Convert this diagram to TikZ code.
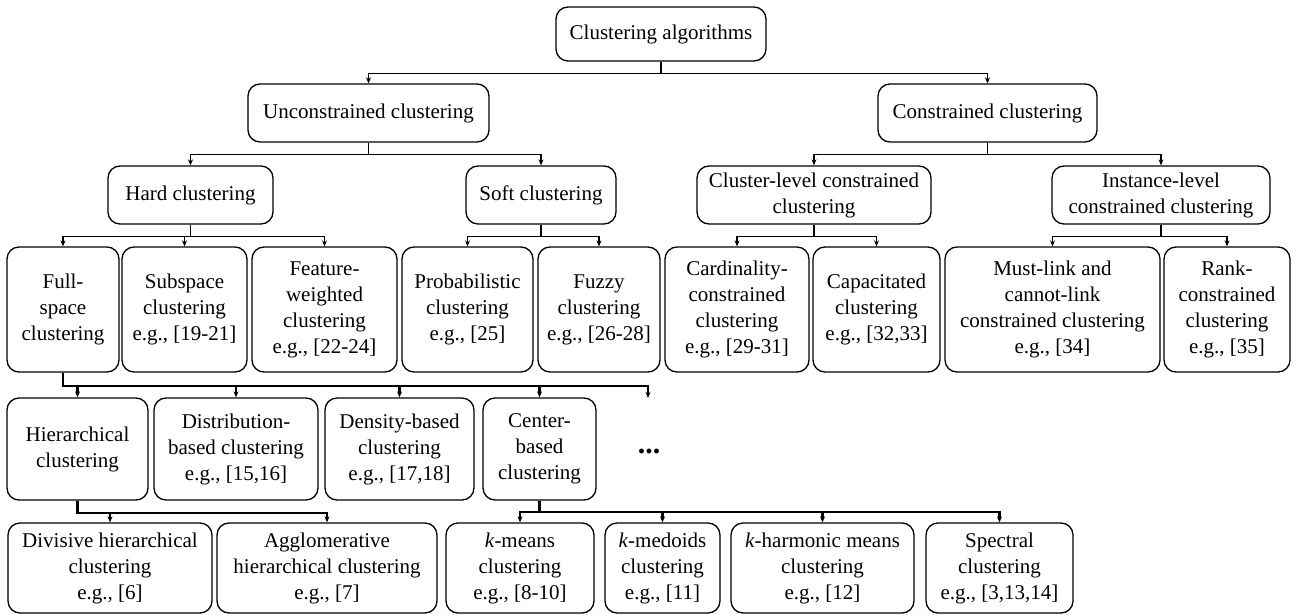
\documentclass[tikz,border=0pt]{standalone}
\usepackage{fontspec}
\setmainfont{Liberation Serif}
\newfontfamily\treefont{Liberation Serif}
\usetikzlibrary{arrows.meta}

\tikzset{
	cbox/.style 2 args = {draw, line width = 1.3pt, rounded corners = 12pt, align = center, inner sep = 0pt,
		minimum width = #1pt, minimum height = #2pt, font = \treefont\fontsize{21}{26}\selectfont},
	link/.style = {line width = 1.3pt, -{Stealth[length = 6pt, width = 5pt]}},
	boldlink/.style = {link, line width = 2.3pt},
}

\begin{document}
\begin{tikzpicture}[x = 1pt, y = -1pt]
	\useasboundingbox (0, 0) rectangle (1303, 615);
%%%%%%%%%%% levels 1-3
	\node[cbox = {210}{54}] (root) at (661, 34) {Clustering algorithms};
	\node[cbox = {241}{58}] (uncon) at (368.5, 113) {Unconstrained clustering};
	\node[cbox = {219}{58}] (con) at (987.5, 113) {Constrained clustering};
	\node[cbox = {165}{58}] (hard) at (190.5, 195) {Hard clustering};
	\node[cbox = {150}{58}] (soft) at (541, 195) {Soft clustering};
	\node[cbox = {234}{58}] (clev) at (814, 195) {Cluster-level constrained\\clustering};
	\node[cbox = {218}{58}] (ilev) at (1161, 195) {Instance-level\\constrained clustering};
%%%%%%%%%%% level 4
	\node[cbox = {112}{125}] (full) at (63, 309.5) {Full-\\space\\clustering};
	\node[cbox = {125}{125}] (sub) at (184.5, 309.5) {Subspace\\clustering\\e.g., [19-21]};
	\node[cbox = {145}{125}] (feat) at (324.5, 309.5) {Feature-\\weighted\\clustering\\e.g., [22-24]};
	\node[cbox = {131}{125}] (prob) at (467.5, 309.5) {Probabilistic\\clustering\\e.g., [25]};
	\node[cbox = {122}{125}] (fuzzy) at (599, 309.5) {Fuzzy\\clustering\\e.g., [26-28]};
	\node[cbox = {144}{125}] (card) at (737, 309.5) {Cardinality-\\constrained\\clustering\\e.g., [29-31]};
	\node[cbox = {127}{125}] (capa) at (876.5, 309.5) {Capacitated\\clustering\\e.g., [32,33]};
	\node[cbox = {215}{125}] (must) at (1052.5, 309.5) {Must-link and\\cannot-link\\constrained clustering\\e.g., [34]};
	\node[cbox = {126}{125}] (rank) at (1227, 309.5) {Rank-\\constrained\\clustering\\e.g., [35]};
%%%%%%%%%%% level 5
	\node[cbox = {141}{102}] (hier) at (77.5, 449) {Hierarchical\\clustering};
	\node[cbox = {164}{102}] (dist) at (236, 449) {Distribution-\\based clustering\\e.g., [15,16]};
	\node[cbox = {149}{102}] (dens) at (399.5, 449) {Density-based\\clustering\\e.g., [17,18]};
	\node[cbox = {113}{102}] (cent) at (539.5, 449) {Center-\\based\\clustering};
	\node[font = \treefont\fontsize{30}{30}\selectfont\bfseries] (dots) at (649, 451) {...};
	\coordinate (more) at (648, 398);
%%%%%%%%%%% level 6
	\node[cbox = {204}{90}] (div) at (110, 568) {Divisive hierarchical\\clustering\\e.g., [6]};
	\node[cbox = {220}{90}] (agg) at (327, 568) {Agglomerative\\hierarchical clustering\\e.g., [7]};
	\node[cbox = {148}{90}] (kmeans) at (520, 568) {\textit{k}-means\\clustering\\e.g., [8-10]};
	\node[cbox = {115}{90}] (kmed) at (662.5, 568) {\textit{k}-medoids\\clustering\\e.g., [11]};
	\node[cbox = {183}{90}] (khar) at (822.5, 568) {\textit{k}-harmonic means\\clustering\\e.g., [12]};
	\node[cbox = {147}{90}] (spec) at (999.5, 568) {Spectral\\clustering\\e.g., [3,13,14]};
%%%%%%%%%%% connectors
	\foreach \c in {uncon, con}
		\draw[link] (root.south) -- ++(0, 12) -| (\c.north);
	\foreach \c in {hard, soft}
		\draw[link] (uncon.south) -- ++(0, 12) -| (\c.north);
	\foreach \c in {clev, ilev}
		\draw[link] (con.south) -- ++(0, 12) -| (\c.north);
	\foreach \c in {full, sub, feat}
		\draw[link] (hard.south) -- ++(0, 12) -| (\c.north);
	\foreach \c in {prob, fuzzy}
		\draw[link] (soft.south) -- ++(0, 12) -| (\c.north);
	\foreach \c in {card, capa}
		\draw[link] (clev.south) -- ++(0, 12) -| (\c.north);
	\foreach \c in {must, rank}
		\draw[link] (ilev.south) -- ++(0, 12) -| (\c.north);
	\foreach \c in {hier.north, dist.north, dens.north, cent.north, more}
		\draw[boldlink] (full.south) -- ++(0, 13) -| (\c);
	\foreach \c in {div, agg}
		\draw[boldlink] (hier.south) -- ++(0, 12) -| (\c.north);
	\foreach \c in {kmeans, kmed, khar, spec}
		\draw[boldlink] (cent.south) -- ++(0, 11) -| (\c.north);
\end{tikzpicture}
\end{document}
